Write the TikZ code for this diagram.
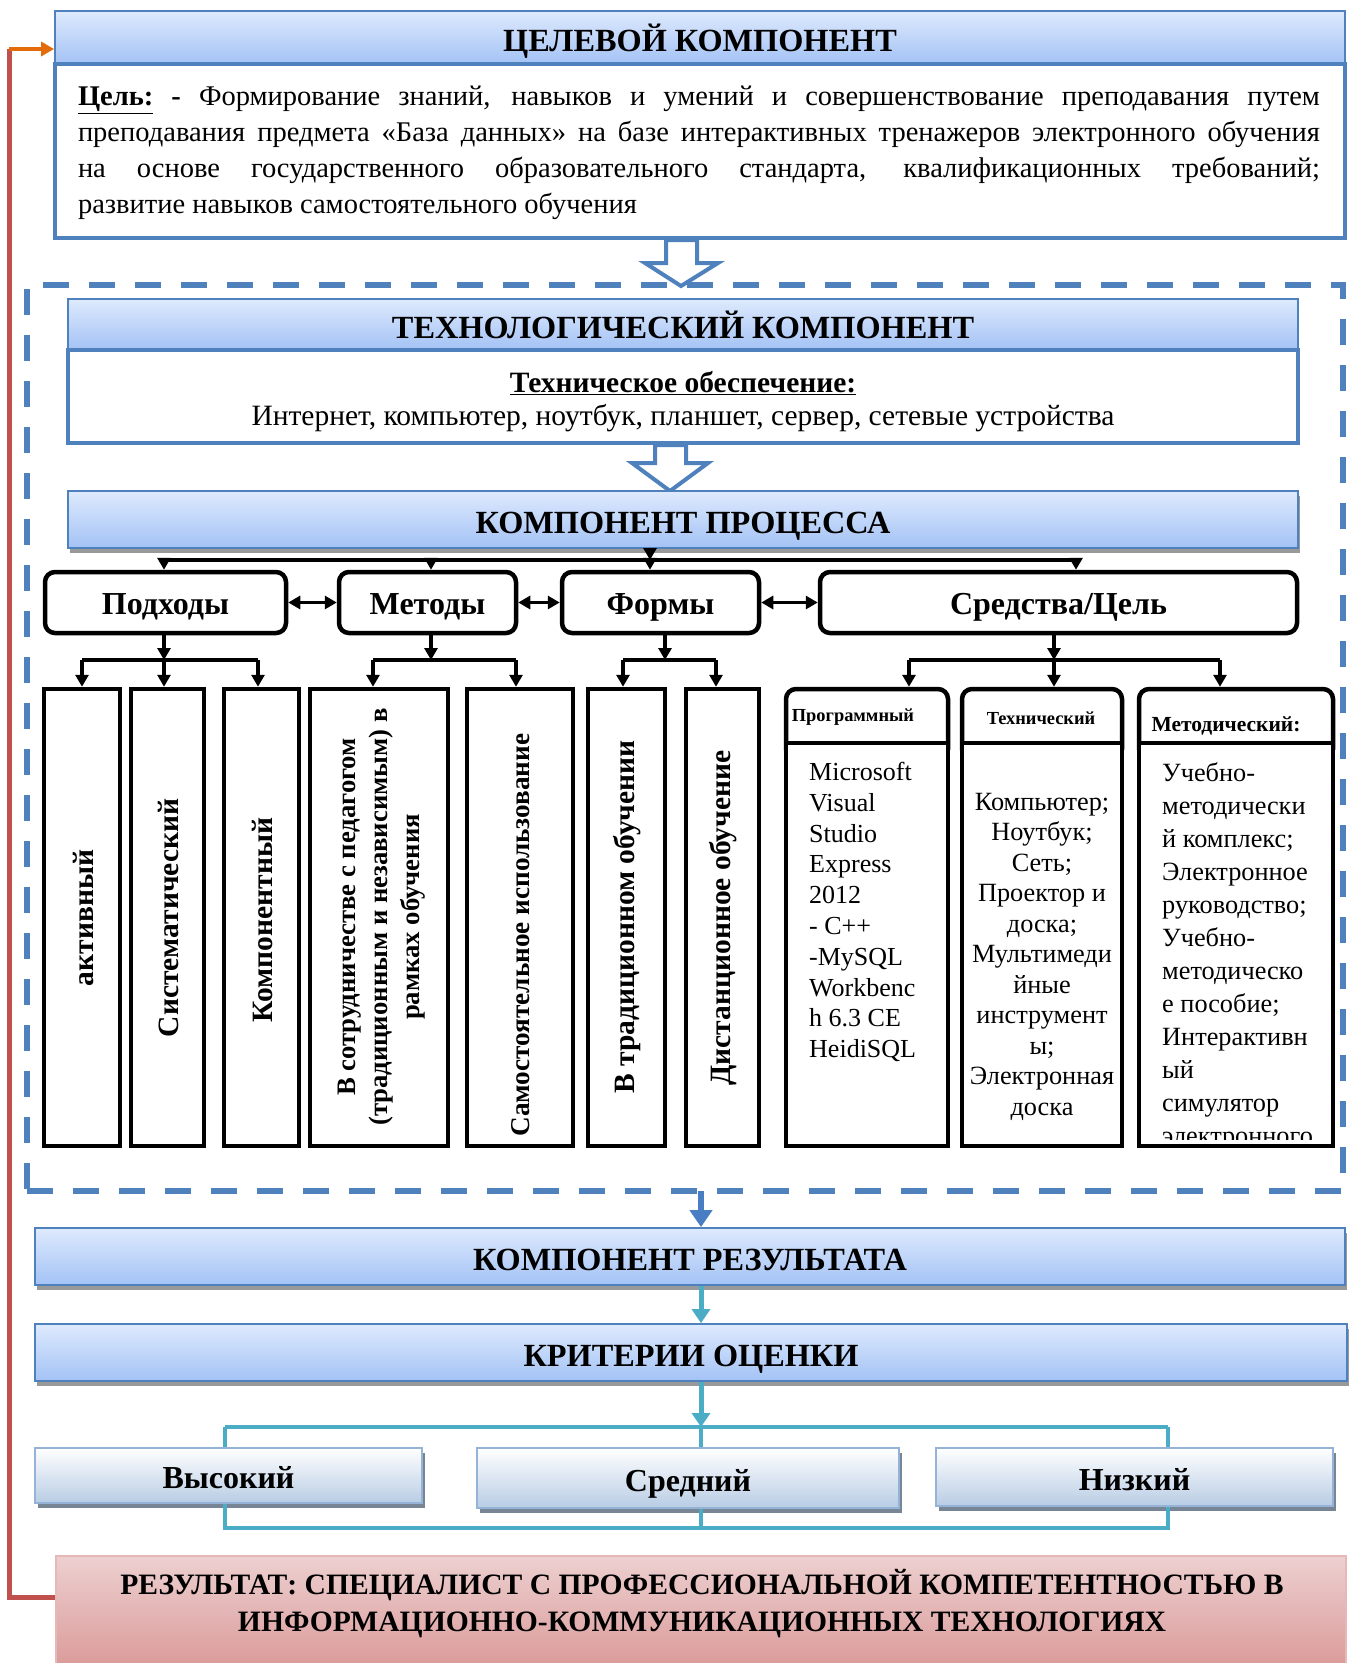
\documentclass[tikz,border=0pt]{standalone}
\usepackage{fontspec}
\setmainfont{Liberation Serif}
\usetikzlibrary{arrows.meta,shadows}
\definecolor{hdrtop}{HTML}{DEEAFD}
\definecolor{hdrbot}{HTML}{A3C2F5}
\definecolor{bluel}{HTML}{4F81BD}
\definecolor{bluea}{HTML}{4A7EC4}
\definecolor{tealc}{HTML}{4BACC6}
\definecolor{redl}{HTML}{C0504D}
\definecolor{orangel}{HTML}{E36C09}
\definecolor{lvbot}{HTML}{B8CCE4}
\definecolor{lvline}{HTML}{95B3D7}
\definecolor{resA}{HTML}{EDD0D0}
\definecolor{resB}{HTML}{F0D8D8}
\definecolor{resC}{HTML}{DA9A99}
\definecolor{resline}{HTML}{E6B9B8}
\begin{document}
\begin{tikzpicture}[x=1pt,y=-1pt,
  hdr/.style={draw=bluel, line width=1.8pt, top color=hdrtop, bottom color=hdrbot, inner sep=0pt, text height=28pt, text depth=0pt, font=\bfseries\fontsize{32.3}{36}\selectfont},
  hshadow/.style={drop shadow={shadow xshift=2pt, shadow yshift=-5pt, fill=black!40, opacity=1}},
  panel/.style={draw=bluel, line width=4pt, fill=white, inner sep=0pt},
  rbox/.style={draw=black, line width=4.5pt, rounded corners=10pt, fill=white, inner sep=0pt, text height=30pt, text depth=6pt, font=\bfseries\fontsize{32}{36}\selectfont},
  vbox/.style={draw=black, line width=4.5pt, fill=white, inner sep=0pt},
  vtext/.style={rotate=90, font=\bfseries\fontsize{29.5}{35}\selectfont, align=center, inner sep=0pt},
  arr/.style={line width=3.5pt, -{Triangle[length=12pt,width=13pt]}},
  dbl/.style={line width=3.5pt, {Triangle[length=12pt,width=13pt]}-{Triangle[length=12pt,width=13pt]}},
  bus/.style={line width=3.5pt},
  lvl/.style={draw=lvline, line width=2pt, top color=white, bottom color=lvbot, inner sep=0pt, text height=26pt, text depth=0pt, font=\bfseries\fontsize{32}{36}\selectfont, drop shadow={shadow xshift=3pt, shadow yshift=-5pt, fill=black!35!lvbot, opacity=1}},
  tline/.style={draw=tealc, line width=3.5pt},
  tarr/.style={draw=tealc, line width=5pt, -{Triangle[length=14pt,width=18pt]}},
  hollow/.style={draw=bluel, line width=4pt, fill=white, line join=miter},
  shead/.style={draw=black, line width=4.5pt, rounded corners=10pt, fill=white, inner sep=0pt},
  stext/.style={inner sep=0pt, font=\fontsize{26}{30.8}\selectfont},
]
\useasboundingbox (0,0) rectangle (1352,1663);

% dashed container
\node[draw=bluel, line width=6pt, dash pattern=on 26pt off 20pt, minimum width=1316pt, minimum height=906pt, inner sep=0pt] (cont) at (685,738) {};

% target component
\node[hdr, minimum width=1290pt, minimum height=53pt] (h1) at (700,37.5) {ЦЕЛЕВОЙ КОМПОНЕНТ};
\node[panel, minimum width=1290pt, minimum height=174pt] (goal) at (700,151) {};
\node[text width=1242pt, align=justify, inner sep=0pt, font=\fontsize{28.5}{36}\selectfont] (goaltxt) at (699,153) {\textbf{\underline{Цель:}\ -}\ Формирование знаний, навыков и умений и совершенствование преподавания путем\linebreak преподавания предмета «База данных» на базе интерактивных тренажеров электронного обучения\linebreak на основе государственного образовательного стандарта, квалификационных требований;\linebreak развитие навыков самостоятельного обучения};

\draw[hollow] (666,240) -- (666,263) -- (645,263) -- (681,286) -- (718,263) -- (697,263) -- (697,240) -- cycle;

% technological component
\node[hdr, minimum width=1230pt, minimum height=51pt] (h2) at (683,324.5) {ТЕХНОЛОГИЧЕСКИЙ КОМПОНЕНТ};
\node[panel, minimum width=1230pt, minimum height=93pt] (tech) at (683,396.5) {};
\node[align=center, inner sep=0pt, font=\fontsize{29.5}{33}\selectfont] (techtxt) at (683,402) {\textbf{\underline{Техническое обеспечение:}}\\ Интернет, компьютер, ноутбук, планшет, сервер, сетевые устройства};

\draw[hollow] (655,445) -- (655,463) -- (632,463) -- (670,491) -- (708,463) -- (686,463) -- (686,445) -- cycle;

% process component
\node[hdr, hshadow, minimum width=1230pt, minimum height=57pt] (h3) at (683,519.5) {КОМПОНЕНТ ПРОЦЕССА};

\node[rbox, minimum width=241pt, minimum height=61pt] (podh) at (165.5,602.5) {Подходы};
\node[rbox, minimum width=177pt, minimum height=61pt] (meth) at (427.5,602.5) {Методы};
\node[rbox, minimum width=197pt, minimum height=61pt] (form) at (660.5,602.5) {Формы};
\node[rbox, minimum width=477pt, minimum height=61pt] (sred) at (1058.5,602.5) {Средства/Цель};

\coordinate (bA) at (164,560);
\coordinate (bB) at (431,560);
\coordinate (bC) at (650,560);
\coordinate (bD) at (1076,560);
\draw[bus] (bA) -- (bD);
\draw[arr] (h3.south -| bC) -- (bC);
\draw[arr] (bA) -- (bA |- podh.north);
\draw[arr] (bB) -- (bB |- meth.north);
\draw[arr] (bC) -- (bC |- form.north);
\draw[arr] (bD) -- (bD |- sred.north);

\draw[dbl] (podh.east) -- (meth.west);
\draw[dbl] (meth.east) -- (form.west);
\draw[dbl] (form.east) -- (sred.west);

% vertical boxes
\node[vbox, minimum width=76pt, minimum height=457pt] (v1) at (82,917.5) {};
\node[vbox, minimum width=73pt, minimum height=457pt] (v2) at (167.5,917.5) {};
\node[vbox, minimum width=75pt, minimum height=457pt] (v3) at (261.5,917.5) {};
\node[vbox, minimum width=138pt, minimum height=457pt] (v4) at (379,917.5) {};
\node[vbox, minimum width=106pt, minimum height=457pt] (v5) at (520,917.5) {};
\node[vbox, minimum width=77pt, minimum height=457pt] (v6) at (626.5,917.5) {};
\node[vbox, minimum width=73pt, minimum height=457pt] (v7) at (722.5,917.5) {};

\node[vtext] (t1) at (83,918) {активный};
\node[vtext] (t2) at (168.5,918) {Систематический};
\node[vtext] (t3) at (262.5,920) {Компонентный};
\node[vtext, font=\bfseries\fontsize{26.7}{32}\selectfont] (t4) at (382,917) {В сотрудничестве с педагогом\\(традиционным и независимым) в\\рамках обучения};
\node[vtext, font=\bfseries\fontsize{27.2}{32}\selectfont] (t5) at (521,935) {Самостоятельное использование};
\node[vtext] (t6) at (627.5,917) {В традиционном обучении};
\node[vtext] (t7) at (723.5,918) {Дистанционное обучение};

% means sub-boxes
\node[shead, minimum width=162pt, minimum height=70pt] (s1h) at (867,724) {};
\node[vbox, minimum width=162pt, minimum height=403pt] (s1) at (867,944.5) {};
\node[shead, minimum width=160pt, minimum height=70pt] (s2h) at (1042,724) {};
\node[vbox, minimum width=160pt, minimum height=403pt] (s2) at (1042,944.5) {};
\node[shead, minimum width=194pt, minimum height=70pt] (s3h) at (1236,724) {};
\node[vbox, minimum width=194pt, minimum height=403pt] (s3) at (1236,944.5) {};

\node[inner sep=0pt, font=\bfseries\fontsize{18.4}{21}\selectfont] (s1t) at (853,717) {Программный};
\node[inner sep=0pt, font=\bfseries\fontsize{18.4}{21}\selectfont] (s2t) at (1041,718) {Технический};
\node[inner sep=0pt, font=\bfseries\fontsize{21.5}{24}\selectfont] (s3t) at (1226,726) {Методический:};

\node[stext, anchor=north west, align=left] (s1c) at (809,762) {Microsoft\\Visual\\Studio\\Express\\2012\\- C++\\-MySQL\\Workbenc\\h 6.3 CE\\HeidiSQL};
\node[stext, anchor=north, align=center, font=\fontsize{26.3}{30.5}\selectfont] (s2c) at (1042,793) {Компьютер;\\Ноутбук;\\Сеть;\\Проектор и\\доска;\\Мультимеди\\йные\\инструмент\\ы;\\Электронная\\доска};
\begin{scope}
\clip (1141,746) rectangle (1331,1139);
\node[stext, anchor=north west, align=left, font=\fontsize{26.3}{33}\selectfont] (s3c) at (1162,762) {Учебно-\\методически\\й комплекс;\\Электронное\\руководство;\\Учебно-\\методическо\\е пособие;\\Интерактивн\\ый\\симулятор\\электронного};
\end{scope}

% sub buses
\coordinate (pA) at (164,660);
\coordinate (pL) at (82,660);
\coordinate (pR) at (258,660);
\draw[arr] (podh.south -| pA) -- (pA);
\draw[bus] (pL) -- (pR);
\draw[arr] (pL) -- (pL |- v1.north);
\draw[arr] (pA) -- (pA |- v2.north);
\draw[arr] (pR) -- (pR |- v3.north);

\coordinate (mA) at (431,660);
\coordinate (mL) at (373,660);
\coordinate (mR) at (516,660);
\draw[arr] (meth.south -| mA) -- (mA);
\draw[bus] (mL) -- (mR);
\draw[arr] (mL) -- (mL |- v4.north);
\draw[arr] (mR) -- (mR |- v5.north);

\coordinate (fA) at (665,660);
\coordinate (fL) at (623,660);
\coordinate (fR) at (716,660);
\draw[arr] (form.south -| fA) -- (fA);
\draw[bus] (fL) -- (fR);
\draw[arr] (fL) -- (fL |- v6.north);
\draw[arr] (fR) -- (fR |- v7.north);

\coordinate (sA) at (1054,660);
\coordinate (sL) at (909,660);
\coordinate (sR) at (1220,660);
\draw[arr] (sred.south -| sA) -- (sA);
\draw[bus] (sL) -- (sR);
\draw[arr] (sL) -- (sL |- s1h.north);
\draw[arr] (sA) -- (sA |- s2h.north);
\draw[arr] (sR) -- (sR |- s3h.north);

% result component
\node[hdr, hshadow, minimum width=1310pt, minimum height=57pt] (h4) at (690,1256.5) {КОМПОНЕНТ РЕЗУЛЬТАТА};
\node[hdr, hshadow, minimum width=1312pt, minimum height=57pt] (h5) at (691,1352.5) {КРИТЕРИИ ОЦЕНКИ};

\coordinate (dc) at (701,1191);
\draw[bluea, line width=6pt, -{Triangle[length=17pt,width=22pt]}] (dc) -- (dc |- h4.north);

\coordinate (ta) at (701,1427);
\coordinate (tL) at (225,1427);
\coordinate (tR) at (1168,1427);
\coordinate (bL) at (225,1528);
\coordinate (bM) at (701,1528);
\coordinate (bR) at (1168,1528);
\draw[tarr] (h4.south -| ta) -- (ta |- h5.north);
\draw[tarr] (h5.south -| ta) -- (ta);

\node[lvl, minimum width=387pt, minimum height=55pt] (hi) at (228.5,1475.5) {Высокий};
\node[lvl, minimum width=422pt, minimum height=60pt] (mid) at (688,1478) {Средний};
\node[lvl, minimum width=397pt, minimum height=58pt] (lo) at (1134.5,1477) {Низкий};

\draw[tline] (tL) -- (tR);
\draw[tline] (tL) -- (tL |- hi.north);
\draw[tline] (ta) -- (ta |- mid.north);
\draw[tline] (tR) -- (tR |- lo.north);
\draw[tline] (hi.south -| bL) -- (bL) -- (bR) -- (bR |- lo.south);
\draw[tline] (mid.south -| bM) -- (bM);

% final result
\node[draw=resline, line width=2pt, top color=resA, middle color=resB, bottom color=resC, minimum width=1290pt, minimum height=112pt, inner sep=0pt] (res) at (701,1612) {};
\node[align=center, inner sep=0pt, font=\bfseries\fontsize{29.6}{37}\selectfont] (restxt) at (702,1604) {РЕЗУЛЬТАТ: СПЕЦИАЛИСТ С ПРОФЕССИОНАЛЬНОЙ КОМПЕТЕНТНОСТЬЮ В\\ИНФОРМАЦИОННО-КОММУНИКАЦИОННЫХ ТЕХНОЛОГИЯХ};

% feedback line
\coordinate (rb) at (9,1597);
\coordinate (rt) at (9,49);
\draw[redl, line width=5pt] (res.west |- rb) -- (rb) -- (rt);
\draw[orangel, line width=4pt, -{Triangle[length=13pt,width=14pt]}] (rt) -- (rt -| h1.west);
\end{tikzpicture}
\end{document}
